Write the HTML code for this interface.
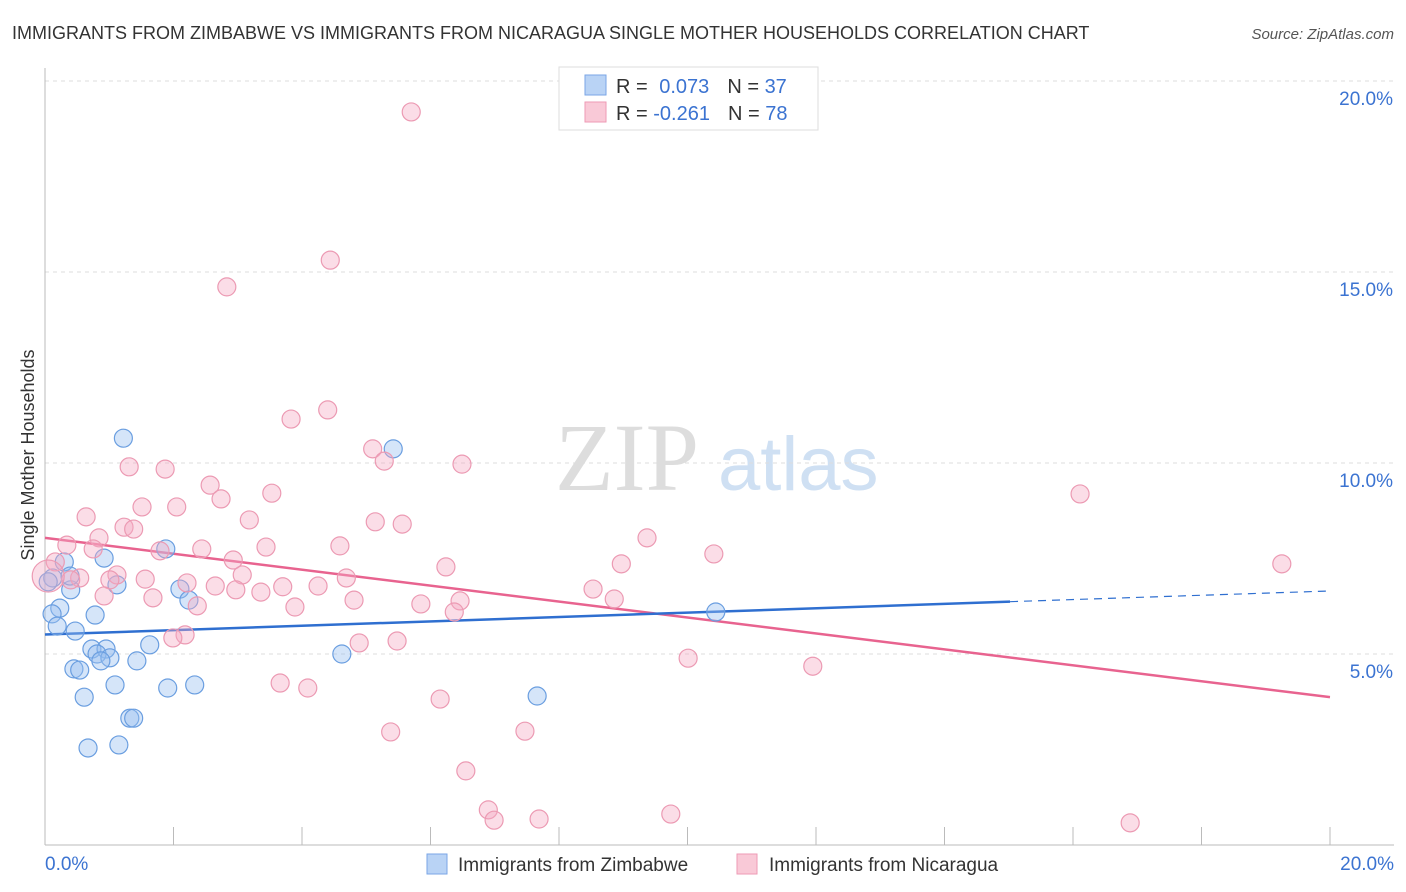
<!DOCTYPE html>
<html><head><meta charset="utf-8"><style>
body{margin:0;background:#fff;font-family:"Liberation Sans",sans-serif}
</style></head><body>
<svg id="chart" width="1406" height="892" xmlns="http://www.w3.org/2000/svg" style="display:block;font-family:'Liberation Sans',sans-serif">
<text x="12" y="39" font-size="18" fill="#333">IMMIGRANTS FROM ZIMBABWE VS IMMIGRANTS FROM NICARAGUA SINGLE MOTHER HOUSEHOLDS CORRELATION CHART</text>
<text x="1394" y="39" font-size="15" fill="#555" text-anchor="end" font-style="italic">Source: ZipAtlas.com</text>
<text transform="translate(34,455) rotate(-90)" font-size="18" fill="#333" text-anchor="middle">Single Mother Households</text>
<g font-size="96">
<text x="555" y="490" fill="#ddd" font-family="Liberation Serif">ZIP</text>
<text x="718" y="490" fill="#cfe0f3" font-size="76">atlas</text></g>
<g id="grid"></g><g id="axes"></g><g id="trends"></g><g id="pts"></g>
<g>
<rect x="559" y="67" width="259" height="63" fill="#fff" stroke="#ddd"/>
<rect x="585" y="75" width="21" height="20" fill="#b9d3f5" stroke="#7aa6e6"/>
<rect x="585" y="102" width="21" height="20" fill="#f9c9d7" stroke="#ee9ab4"/>
<text x="616" y="93" font-size="20" fill="#333">R = <tspan fill="#3b73d1" dx="6">0.073</tspan><tspan dx="18" fill="#333">N = </tspan><tspan fill="#3b73d1">37</tspan></text>
<text x="616" y="120" font-size="20" fill="#333">R = <tspan fill="#3b73d1">-0.261</tspan><tspan dx="18" fill="#333">N = </tspan><tspan fill="#3b73d1">78</tspan></text>
</g>
<g font-size="19" fill="#333">
<rect x="427" y="854" width="20" height="20" fill="#b9d3f5" stroke="#7aa6e6"/>
<text x="458" y="871">Immigrants from Zimbabwe</text>
<rect x="737" y="854" width="20" height="20" fill="#f9c9d7" stroke="#ee9ab4"/>
<text x="769" y="871">Immigrants from Nicaragua</text></g>
</svg>
<script>
const yTicks=[5,10,15,20];
const yTickLabels=["5.0%","10.0%","15.0%","20.0%"];
const xTickLabels=["0.0%","20.0%"];
const blueX=[1.22,5.42,1.88,0.92,0.30,0.12,1.12,2.10,2.24,0.23,0.11,0.78,0.19,0.47,10.44,1.63,0.73,0.95,0.81,1.01,0.87,1.43,4.62,0.45,0.54,1.09,1.91,2.33,0.61,7.66,1.32,1.38,0.67,1.15,0.40,0.05,0.39];
const blueY=[10.65,10.37,7.75,7.51,7.41,6.99,6.81,6.70,6.41,6.20,6.05,6.02,5.73,5.60,6.10,5.24,5.13,5.13,5.00,4.90,4.82,4.82,5.00,4.61,4.58,4.19,4.11,4.19,3.87,3.90,3.32,3.32,2.54,2.62,6.68,6.89,7.04];
const pinkX=[5.70,4.44,2.83,3.83,4.40,5.10,5.28,6.49,1.31,1.87,16.11,2.57,3.53,2.74,0.64,2.05,1.51,3.18,5.14,5.56,1.23,1.38,0.84,9.37,4.59,2.44,10.41,0.75,0.34,1.79,3.44,19.25,0.16,2.93,8.97,6.24,1.12,0.54,0.40,1.56,3.07,4.69,1.01,2.21,2.65,3.70,4.25,2.97,3.36,8.53,0.92,1.68,4.81,6.46,8.86,2.37,3.89,5.85,6.37,2.18,1.99,4.89,5.48,10.01,11.95,3.66,4.09,6.15,5.38,7.47,6.55,6.90,6.99,7.69,9.74,16.89,0.05];
const pinkY=[19.19,15.31,14.61,11.15,11.39,10.37,10.05,9.97,9.90,9.84,9.19,9.42,9.21,9.06,8.59,8.85,8.85,8.51,8.46,8.40,8.32,8.27,8.04,8.04,7.83,7.75,7.62,7.75,7.85,7.70,7.80,7.36,7.41,7.46,7.36,7.28,7.07,6.99,6.94,6.96,7.07,6.99,6.94,6.86,6.78,6.76,6.78,6.68,6.62,6.70,6.52,6.47,6.41,6.39,6.44,6.26,6.23,6.31,6.10,5.50,5.42,5.29,5.34,4.89,4.68,4.24,4.11,3.82,2.96,2.98,1.94,0.92,0.65,0.68,0.81,0.58,7.04];
const blueTrend=[[0,5.51],[15.02,6.37]];
const blueTrendExt=[[15.02,6.37],[20,6.65]];
const pinkTrend=[[0,8.04],[20,3.87]];
const NS='http://www.w3.org/2000/svg';
const X0=45,X1=1330,Y0=845,PPU=38.2;
function sx(v){return X0+v/20*(X1-X0);}
function sy(v){return Y0-v*PPU;}
function mk(t,a,p){const e=document.createElementNS(NS,t);for(const k in a)e.setAttribute(k,a[k]);document.getElementById(p).appendChild(e);return e;}
yTicks.forEach((t,i)=>{
 const g=mk('line',{x1:X0,x2:1394,y1:sy(t),y2:sy(t),stroke:'#ddd','stroke-dasharray':'4,4'},'grid');
 
 
 const l=mk('text',{x:1393,y:sy(t)+24,'font-size':19,fill:'#3b73d1','text-anchor':'end'},'axes');
 l.textContent=yTickLabels[i];
 
 
});
const ax=mk('line',{x1:X0,x2:X0,y1:68,y2:Y0,stroke:'#bbb'},'axes');


const bx=mk('line',{x1:X0,x2:1394,y1:Y0,y2:Y0,stroke:'#bbb'},'axes');


for(let i=0;i<=10;i++){
 const tk=mk('line',{x1:sx(i*2),x2:sx(i*2),y1:Y0,y2:Y0-18,stroke:'#bbb'},'axes');
 
 
}
[[0,'start',45],[1,'end',1394]].forEach(([i,a,x])=>{
 const l=mk('text',{x:x,y:870,'font-size':19,fill:'#3b73d1','text-anchor':a},'axes');
 l.textContent=xTickLabels[i];
 
 
});
function line(p,c,dash,name){
 const l=mk('line',{x1:sx(p[0][0]),y1:sy(p[0][1]),x2:sx(p[1][0]),y2:sy(p[1][1]),stroke:c,'stroke-width':dash?1.2:2.5},'trends');
 if(dash)l.setAttribute('stroke-dasharray','8,6');
 
 
}
blueX.forEach((v,i)=>{
 const c=mk('circle',{cx:sx(v),cy:sy(blueY[i]),r:9,fill:'rgba(150,190,240,0.4)',stroke:'#6a9ee0','stroke-width':1.2},'pts');
 
 
});
pinkX.forEach((v,i)=>{
 const c=mk('circle',{cx:sx(v),cy:sy(pinkY[i]),r:i==pinkX.length-1?16:9,fill:'rgba(245,170,195,0.4)',stroke:'#ec9ab3','stroke-width':1.2},'pts');
 
 
});
line(pinkTrend,'#e8638f',false,'nicaragua-trend-line');
line(blueTrend,'#2f6fd0',false,'zimbabwe-trend-line');
line(blueTrendExt,'#2f6fd0',true,'zimbabwe-trend-extension');
</script>
</body></html>
